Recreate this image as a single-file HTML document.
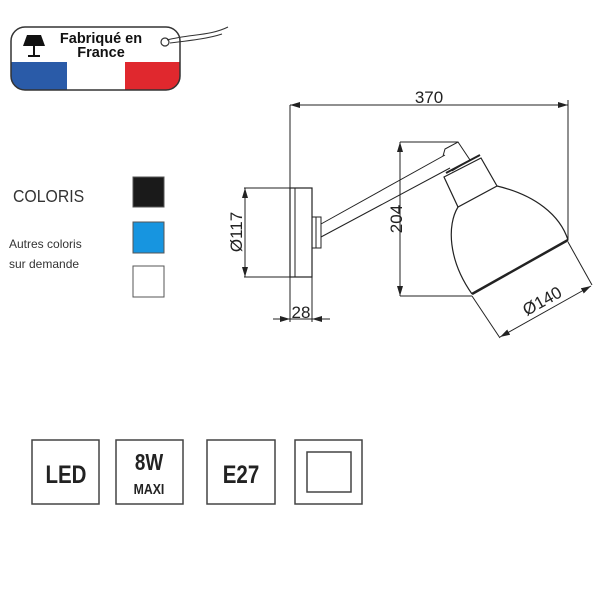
<!DOCTYPE html><html><head><style>body{margin:0;background:#fff}svg{display:block}</style></head><body>
<svg width="600" height="600" viewBox="0 0 600 600" xmlns="http://www.w3.org/2000/svg" font-family="Liberation Sans, sans-serif">
<defs>
<clipPath id="bc"><rect x="11" y="27" width="169" height="63" rx="14"/></clipPath>
<marker id="a" viewBox="0 0 10 6" refX="10" refY="3" markerWidth="10" markerHeight="6" orient="auto-start-reverse" markerUnits="userSpaceOnUse"><path d="M0,0L10,3L0,6z" fill="#222"/></marker>
</defs>
<g clip-path="url(#bc)">
<rect x="11" y="27" width="169" height="63" fill="#fff"/>
<rect x="11" y="62" width="56" height="28" fill="#2a5ba8"/>
<rect x="125" y="62" width="55" height="28" fill="#e0282e"/>
</g>
<rect x="11" y="27" width="169" height="63" rx="14" fill="none" stroke="#333" stroke-width="1.5"/>
<path d="M27,35h14l4,11h-22z" fill="#111"/><rect x="33" y="46" width="2" height="9" fill="#111"/><rect x="28" y="55" width="12" height="2" fill="#111"/>
<text x="101" y="43" font-size="14.5" font-weight="bold" text-anchor="middle" fill="#111">Fabriqué en</text>
<text x="101" y="57" font-size="14.5" font-weight="bold" text-anchor="middle" fill="#111">France</text>
<circle cx="165" cy="42" r="4" fill="none" stroke="#333" stroke-width="1.2"/>
<path d="M167,40C190,34 210,36 228,27M170,43C195,40 210,38 222,34" fill="none" stroke="#333" stroke-width="1"/>
<text x="13" y="202" font-size="18" fill="#333" transform="translate(13 0) scale(0.88 1) translate(-13 0)">COLORIS</text>
<text x="9" y="248" font-size="12" fill="#333">Autres coloris</text>
<text x="9" y="268" font-size="12" fill="#333">sur demande</text>
<rect x="133" y="177" width="31" height="30" fill="#1a1a1a" stroke="#555"/>
<rect x="133" y="222" width="31" height="31" fill="#1795e0" stroke="#555"/>
<rect x="133" y="266" width="31" height="31" fill="#fff" stroke="#555"/>
<g stroke="#222" stroke-width="1" fill="none">
<line x1="290" y1="105" x2="290" y2="322"/>
<line x1="568" y1="100" x2="568" y2="240"/>
<line x1="290" y1="105" x2="568" y2="105" marker-start="url(#a)" marker-end="url(#a)"/>
<line x1="244" y1="188" x2="292" y2="188"/><line x1="244" y1="277" x2="292" y2="277"/>
<line x1="245" y1="188" x2="245" y2="277" marker-start="url(#a)" marker-end="url(#a)"/>
<rect x="290" y="188" width="22" height="89" stroke-width="1.2"/>
<line x1="295" y1="188" x2="295" y2="277"/>
<rect x="312" y="217" width="9" height="31"/><line x1="316" y1="217" x2="316" y2="248"/>
<line x1="312" y1="277" x2="312" y2="322"/>
<line x1="273" y1="319" x2="290" y2="319" marker-end="url(#a)"/>
<line x1="330" y1="319" x2="312" y2="319" marker-end="url(#a)"/>
<line x1="290" y1="319" x2="312" y2="319"/>
<line x1="321" y1="224" x2="445" y2="155"/>
<line x1="321" y1="237" x2="450" y2="168"/>
<path d="M443,156L445,149L458,142L470,160L452,171"/>
<line x1="400" y1="142" x2="458" y2="142"/><line x1="400" y1="296" x2="472" y2="296"/>
<line x1="400" y1="142" x2="400" y2="296" marker-start="url(#a)" marker-end="url(#a)"/>
<path d="M444,177L481,158L497,186L458,207Z" stroke-width="1.2"/>
<path d="M446,173L480,155" stroke-width="2"/>
<path d="M458,207C447,225 448,260 472,294" stroke-width="1.2"/>
<path d="M497,186C535,195 560,215 568,240" stroke-width="1.2"/>
<path d="M472,294L568,240" stroke-width="2.5"/>
<line x1="472" y1="296" x2="500" y2="338"/><line x1="568" y1="242" x2="592" y2="285"/>
<line x1="500" y1="337" x2="591" y2="286" marker-start="url(#a)" marker-end="url(#a)"/>
</g>
<g font-size="17" fill="#222">
<text x="429" y="103" text-anchor="middle">370</text>
<text x="301" y="318" text-anchor="middle">28</text>
<text transform="translate(402 219) rotate(-90)" text-anchor="middle">204</text>
<text transform="translate(242 232) rotate(-90)" text-anchor="middle">Ø117</text>
<text transform="translate(545 306) rotate(-29)" text-anchor="middle">Ø140</text>
</g>
<g fill="none" stroke="#444" stroke-width="1.5">
<rect x="32" y="440" width="67" height="64"/><rect x="116" y="440" width="67" height="64"/>
<rect x="207" y="440" width="68" height="64"/><rect x="295" y="440" width="67" height="64"/>
<rect x="307" y="452" width="44" height="40"/>
</g>
<g font-weight="bold" fill="#222" text-anchor="middle">
<text x="66" y="483" font-size="25" transform="translate(66 0) scale(0.82 1) translate(-66 0)">LED</text>
<text x="149" y="470" font-size="23" transform="translate(149 0) scale(0.82 1) translate(-149 0)">8W</text>
<text x="149" y="494" font-size="15" transform="translate(149 0) scale(0.82 1) translate(-149 0)">MAXI</text>
<text x="241" y="483" font-size="25" transform="translate(241 0) scale(0.82 1) translate(-241 0)">E27</text>
</g>
</svg>
</body></html>
